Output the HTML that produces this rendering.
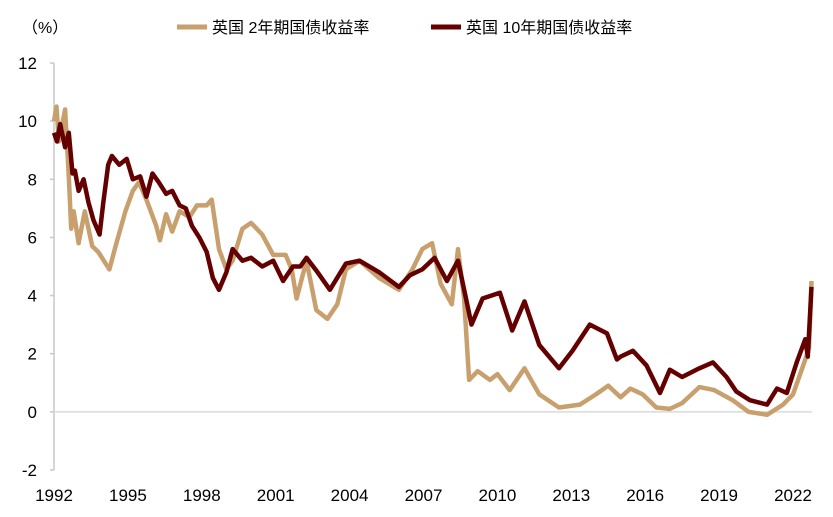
<!DOCTYPE html>
<html><head><meta charset="utf-8"><style>
body{margin:0;background:#fff;font-family:"Liberation Sans","Noto Sans CJK SC",sans-serif;}
svg text{font-family:"Liberation Sans","Noto Sans CJK SC",sans-serif;}
</style></head><body>
<svg id="chart" width="833" height="512" xmlns="http://www.w3.org/2000/svg">
<text x="22" y="33" font-size="16" fill="#000">（%）</text>
<g>
<line x1="177" y1="27" x2="207" y2="27" stroke="#C8A06E" stroke-width="5"/>
<text x="212" y="33" font-size="16">英国 2年期国债收益率</text>
<line x1="431" y1="27" x2="461" y2="27" stroke="#650000" stroke-width="5"/>
<text x="466" y="33" font-size="16">英国 10年期国债收益率</text>
</g>
<g id="axes"></g>
<g id="series"></g>
</svg>
<script>
const yTicks=[12,10,8,6,4,2,0,-2];
const xTickYears=[1992,1995,1998,2001,2004,2007,2010,2013,2016,2019,2022];
const yrs2=[1992.0,1992.1,1992.2,1992.45,1992.6,1992.7,1992.8,1993.0,1993.25,1993.55,1993.8,1994.25,1994.5,1994.9,1995.2,1995.45,1995.75,1996.15,1996.3,1996.55,1996.8,1997.1,1997.5,1997.8,1998.2,1998.4,1998.7,1999.0,1999.25,1999.65,2000.0,2000.45,2000.9,2001.4,2001.65,2001.85,2002.25,2002.65,2003.1,2003.5,2003.85,2004.4,2005.2,2006.0,2006.55,2006.95,2007.35,2007.7,2008.15,2008.4,2008.65,2008.85,2009.2,2009.7,2010.0,2010.5,2011.1,2011.7,2012.5,2013.35,2014.0,2014.5,2015.0,2015.4,2015.9,2016.45,2017.0,2017.5,2018.2,2018.8,2019.55,2020.2,2020.95,2021.6,2022.0,2022.5,2022.65,2022.75];
const val2=[10.0,10.5,9.3,10.4,8.1,6.3,6.9,5.8,6.9,5.7,5.5,4.9,5.7,6.9,7.6,7.9,7.3,6.4,5.9,6.8,6.2,6.9,6.7,7.1,7.1,7.3,5.6,4.9,5.2,6.3,6.5,6.1,5.4,5.4,4.9,3.9,5.2,3.5,3.2,3.7,4.9,5.2,4.6,4.2,4.9,5.6,5.8,4.4,3.7,5.6,3.9,1.1,1.4,1.1,1.3,0.75,1.5,0.6,0.15,0.25,0.6,0.9,0.5,0.8,0.6,0.15,0.1,0.3,0.85,0.75,0.4,0.0,-0.1,0.25,0.6,1.8,2.2,4.5];
const yrs10=[1992.0,1992.12,1992.25,1992.45,1992.6,1992.75,1992.85,1993.0,1993.2,1993.4,1993.6,1993.85,1994.0,1994.2,1994.35,1994.65,1994.95,1995.2,1995.5,1995.75,1996.0,1996.25,1996.55,1996.8,1997.1,1997.35,1997.6,1997.9,1998.2,1998.45,1998.7,1999.0,1999.25,1999.65,2000.0,2000.45,2000.9,2001.3,2001.7,2002.0,2002.25,2002.7,2003.2,2003.85,2004.4,2005.2,2006.0,2006.45,2006.95,2007.45,2007.95,2008.4,2008.95,2009.4,2010.1,2010.6,2011.1,2011.7,2012.5,2013.05,2013.75,2014.45,2014.85,2015.0,2015.5,2016.05,2016.6,2017.0,2017.5,2018.2,2018.75,2019.3,2019.7,2020.25,2020.95,2021.35,2021.75,2022.15,2022.5,2022.6,2022.75];
const val10=[9.6,9.3,9.9,9.1,9.6,8.2,8.3,7.6,8.0,7.2,6.6,6.1,7.2,8.5,8.8,8.5,8.7,8.0,8.1,7.4,8.2,7.9,7.5,7.6,7.1,7.0,6.4,6.0,5.5,4.6,4.2,4.8,5.6,5.2,5.3,5.0,5.2,4.5,5.0,5.0,5.3,4.8,4.2,5.1,5.2,4.8,4.3,4.7,4.9,5.3,4.5,5.2,3.0,3.9,4.1,2.8,3.8,2.3,1.5,2.1,3.0,2.7,1.8,1.9,2.1,1.6,0.65,1.45,1.2,1.5,1.7,1.2,0.7,0.4,0.25,0.8,0.65,1.7,2.5,1.9,4.3];
const NS="http://www.w3.org/2000/svg";
const x0=54,x1=793,yTop=63,yBot=470;
function xs(y){return x0+(y-1992)/30*(x1-x0);}
function ys(v){return yBot-(v+2)/14*(yBot-yTop);}
const axes=document.getElementById('axes');
function mk(tag,attrs,parent){const e=document.createElementNS(NS,tag);for(const k in attrs)e.setAttribute(k,attrs[k]);parent.appendChild(e);return e;}
const yAxis=mk('line',{x1:x0,y1:yTop,x2:x0,y2:yBot,stroke:'#c8c8c8','stroke-width':1.5},axes);


const zl=mk('line',{x1:x0,y1:ys(0),x2:812,y2:ys(0),stroke:'#d9d9d9','stroke-width':1.5},axes);


yTicks.forEach(v=>{
 const t=mk('line',{x1:x0-4,y1:ys(v),x2:x0,y2:ys(v),stroke:'#c8c8c8','stroke-width':1.5},axes);
 
 
 const l=mk('text',{x:37,y:ys(v)+6,'font-size':17,'text-anchor':'end',fill:'#000'},axes);
 l.textContent=v;
 
 
});
xTickYears.forEach(yr=>{
 const l=mk('text',{x:xs(yr),y:501,'font-size':17,'text-anchor':'middle',fill:'#000'},axes);
 l.textContent=yr;
 
 
});
const series=document.getElementById('series');
function draw(yrs,vals,color,name){
 const pts=yrs.map((y,i)=>xs(y).toFixed(1)+','+ys(vals[i]).toFixed(1)).join(' ');
 const p=mk('polyline',{points:pts,fill:'none',stroke:color,'stroke-width':4.5,'stroke-linejoin':'round'},series);
 
 
}
draw(yrs2,val2,'#C8A06E','series-2y-yield');
draw(yrs10,val10,'#650000','series-10y-yield');
</script>
</body></html>
